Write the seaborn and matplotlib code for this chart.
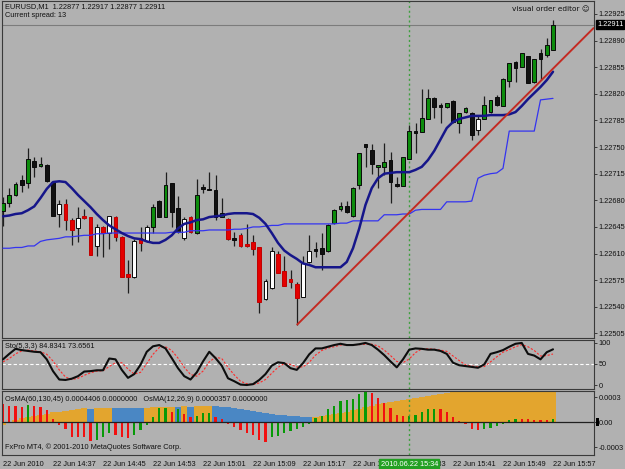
import matplotlib
matplotlib.use("Agg")
import matplotlib.pyplot as plt
from matplotlib.patches import Rectangle
import numpy as np
import pandas as pd
import seaborn as sns

# ---------------- data (EURUSD M1, 22 Jun 2010 14:29 .. 15:57) ----------------
opens = [1.22666, 1.22676, 1.22687, 1.22707, 1.22703, 1.22732, 1.22725, 1.22726, 1.22704, 1.22662,
         1.22675, 1.22654, 1.22643, 1.22660, 1.22658, 1.22620, 1.22645, 1.22637, 1.22658, 1.22632,
         1.22583, 1.22579, 1.22630, 1.22626, 1.22645, 1.22679, 1.22658, 1.22703, 1.22670, 1.22630,
         1.22658, 1.22637, 1.22697, 1.22695, 1.22693, 1.22658, 1.22655, 1.22630, 1.22634, 1.22622,
         1.22625, 1.22618, 1.22550, 1.22565, 1.22610, 1.22587, 1.22576, 1.22570, 1.22553, 1.22599,
         1.22616, 1.22617, 1.22613, 1.22650, 1.22668, 1.22672, 1.22659, 1.22700, 1.22754, 1.22746,
         1.22724, 1.22724, 1.22733, 1.22701, 1.22699, 1.22734, 1.22771, 1.22770, 1.22787, 1.22814,
         1.22805, 1.22803, 1.22810, 1.22782, 1.22796, 1.22795, 1.22772, 1.22787, 1.22796, 1.22816,
         1.22804, 1.22837, 1.22862, 1.22855, 1.22870, 1.22835, 1.22874, 1.22871, 1.22877]
highs = [1.22684, 1.22696, 1.22704, 1.22713, 1.22749, 1.22737, 1.22737, 1.22728, 1.22704, 1.22680,
         1.22682, 1.22657, 1.22671, 1.22668, 1.22658, 1.22649, 1.22646, 1.22660, 1.22659, 1.22633,
         1.22601, 1.22629, 1.22645, 1.22647, 1.22675, 1.22680, 1.22717, 1.22703, 1.22686, 1.22658,
         1.22660, 1.22708, 1.22701, 1.22717, 1.22713, 1.22683, 1.22657, 1.22638, 1.22637, 1.22649,
         1.22634, 1.22618, 1.22576, 1.22618, 1.22613, 1.22607, 1.22588, 1.22572, 1.22607, 1.22634,
         1.22625, 1.22637, 1.22649, 1.22668, 1.22678, 1.22679, 1.22697, 1.22742, 1.22754, 1.22754,
         1.22726, 1.22755, 1.22743, 1.22711, 1.22737, 1.22779, 1.22782, 1.22826, 1.22826, 1.22816,
         1.22808, 1.22808, 1.22812, 1.22795, 1.22803, 1.22796, 1.22792, 1.22817, 1.22812, 1.22818,
         1.22841, 1.22861, 1.22863, 1.22874, 1.22870, 1.22866, 1.22879, 1.22893, 1.22917]
lows = [1.22646, 1.22671, 1.22686, 1.22691, 1.22696, 1.22711, 1.22724, 1.22704, 1.22659, 1.22645,
        1.22641, 1.22621, 1.22625, 1.22655, 1.22608, 1.22607, 1.22605, 1.22616, 1.22626, 1.22579,
        1.22558, 1.22578, 1.22614, 1.22625, 1.22637, 1.22658, 1.22658, 1.22645, 1.22637, 1.22628,
        1.22637, 1.22636, 1.22690, 1.22693, 1.22654, 1.22658, 1.22628, 1.22620, 1.22618, 1.22618,
        1.22608, 1.22532, 1.22549, 1.22563, 1.22584, 1.22567, 1.22565, 1.22516, 1.22553, 1.22597,
        1.22605, 1.22588, 1.22612, 1.22649, 1.22666, 1.22663, 1.22658, 1.22695, 1.22724, 1.22715,
        1.22696, 1.22713, 1.22676, 1.22697, 1.22699, 1.22734, 1.22742, 1.22770, 1.22787, 1.22788,
        1.22782, 1.22801, 1.22782, 1.22768, 1.22795, 1.22759, 1.22766, 1.22787, 1.22795, 1.22804,
        1.22804, 1.22829, 1.22835, 1.22855, 1.22834, 1.22834, 1.22838, 1.22868, 1.22877]
closes = [1.22676, 1.22687, 1.22701, 1.22700, 1.22734, 1.22724, 1.22728, 1.22705, 1.22659, 1.22675,
          1.22654, 1.22641, 1.22657, 1.22657, 1.22608, 1.22645, 1.22637, 1.22659, 1.22632, 1.22579,
          1.22579, 1.22626, 1.22624, 1.22645, 1.22671, 1.22658, 1.22700, 1.22664, 1.22638, 1.22655,
          1.22638, 1.22687, 1.22695, 1.22693, 1.22658, 1.22663, 1.22629, 1.22628, 1.22620, 1.22620,
          1.22616, 1.22546, 1.22574, 1.22614, 1.22584, 1.22568, 1.22572, 1.22551, 1.22597, 1.22614,
          1.22613, 1.22610, 1.22647, 1.22667, 1.22672, 1.22664, 1.22696, 1.22742, 1.22750, 1.22728,
          1.22726, 1.22730, 1.22704, 1.22699, 1.22737, 1.22771, 1.22768, 1.22788, 1.22814, 1.22803,
          1.22803, 1.22808, 1.22783, 1.22795, 1.22801, 1.22766, 1.22787, 1.22805, 1.22812, 1.22805,
          1.22839, 1.22861, 1.22854, 1.22874, 1.22834, 1.22866, 1.22866, 1.22884, 1.22911]
candle_kind = list("gggkgkgkkw" "rrwrrwrwrr" "rwrwgkgkkw" "rgkkkgrkrr" "rrwwrrrrww"
                   "kkgggkggkk" "ggkkggkggk" "kgkggkwggk" "ggkgkgkgg")

ma_slow = [1.22659, 1.22660, 1.22662, 1.22663, 1.22667, 1.22672, 1.22683, 1.22695, 1.22704, 1.22705,
           1.22704, 1.22696, 1.22687, 1.22679, 1.22671, 1.22662, 1.22654, 1.22647, 1.22642, 1.22637,
           1.22633, 1.22630, 1.22629, 1.22626, 1.22624, 1.22624, 1.22628, 1.22634, 1.22643, 1.22649,
           1.22651, 1.22654, 1.22655, 1.22658, 1.22659, 1.22660, 1.22662, 1.22663, 1.22663, 1.22663,
           1.22662, 1.22657, 1.22649, 1.22637, 1.22624, 1.22614, 1.22608, 1.22603, 1.22597, 1.22595,
           1.22592, 1.22592, 1.22592, 1.22592, 1.22592, 1.22599, 1.22617, 1.22643, 1.22674, 1.22696,
           1.22709, 1.22715, 1.22716, 1.22717, 1.22717, 1.22717, 1.22720, 1.22724, 1.22733, 1.22745,
           1.22760, 1.22775, 1.22783, 1.22787, 1.22789, 1.22791, 1.22791, 1.22791, 1.22792, 1.22792,
           1.22792, 1.22793, 1.22796, 1.22804, 1.22813, 1.22821, 1.22829, 1.22838, 1.22849]
stop_line = [1.22617, 1.22617, 1.22618, 1.22618, 1.22620, 1.22620, 1.22626, 1.22628, 1.22629, 1.22630,
             1.22632, 1.22632, 1.22633, 1.22634, 1.22634, 1.22636, 1.22636, 1.22637, 1.22637, 1.22637,
             1.22637, 1.22637, 1.22637, 1.22637, 1.22637, 1.22637, 1.22637, 1.22638, 1.22638, 1.22638,
             1.22640, 1.22640, 1.22640, 1.22641, 1.22641, 1.22641, 1.22641, 1.22642, 1.22642, 1.22643,
             1.22645, 1.22645, 1.22646, 1.22647, 1.22647, 1.22649, 1.22649, 1.22649, 1.22649, 1.22649,
             1.22649, 1.22649, 1.22649, 1.22649, 1.22650, 1.22650, 1.22653, 1.22653, 1.22653, 1.22653,
             1.22653, 1.22661, 1.22661, 1.22661, 1.22662, 1.22662, 1.22667, 1.22668, 1.22668, 1.22668,
             1.22668, 1.22678, 1.22678, 1.22678, 1.22678, 1.22679, 1.22709, 1.22713, 1.22715, 1.22716,
             1.22722, 1.22771, 1.22771, 1.22771, 1.22771, 1.22771, 1.22812, 1.22813, 1.22814]

trend_bars = [47, 94.56]
trend_prices = [1.22516, 1.22907]
current_price = 1.22911
cursor_bar = 65
cursor_label = "2010.06.22 15:34"

stoch_main = [61, 74, 86, 83, 81, 79, 78, 61, 33, 13,
              12, 15, 21, 32, 33, 35, 35, 63, 61, 36,
              17, 26, 48, 79, 92, 95, 87, 64, 40, 21,
              13, 30, 56, 79, 64, 46, 16, 9, 1, 0,
              2, 12, 26, 46, 54, 52, 40, 36, 52, 73,
              87, 87, 91, 95, 98, 95, 95, 97, 100, 95,
              84, 71, 56, 42, 61, 84, 87, 86, 84, 84,
              81, 74, 53, 47, 45, 43, 41, 49, 74, 78,
              83, 91, 98, 100, 74, 70, 61, 78, 84.83]
stoch_signal = [55, 63, 74, 81, 83, 81, 79, 73, 57, 36,
                19, 13, 16, 23, 29, 33, 34, 44, 53, 53,
                38, 26, 30, 51, 73, 89, 91, 82, 64, 42,
                25, 21, 33, 55, 66, 63, 42, 24, 9, 3,
                1, 5, 13, 28, 42, 51, 49, 43, 43, 54,
                71, 82, 88, 91, 95, 96, 96, 96, 97, 97,
                93, 83, 70, 56, 53, 62, 77, 86, 86, 85,
                83, 80, 69, 58, 48, 45, 43, 44, 55, 67,
                78, 84, 91, 96, 91, 82, 69, 70, 73.66]

osma_slow = [-0.00004, -0.00001, 0.00003, 0.000048, 0.00006, 0.000074, 0.000085, 0.000096, 0.000115, 0.000126,
             0.000137, 0.000144, 0.000155, 0.000163, 0.000161, 0.000166, 0.000168, 0.00017, 0.000169, 0.000168,
             0.000167, 0.000166, 0.000165, 0.00017, 0.000176, 0.00018, 0.000184, 0.000186, 0.000185, 0.000187,
             0.000186, 0.00019, 0.000194, 0.000197, 0.000192, 0.000185, 0.000178, 0.000167, 0.000155, 0.000144,
             0.000133, 0.000122, 0.000111, 0.0001, 0.000089, 0.000081, 0.000074, 0.000067, 0.000063, 0.000059,
             0.000065, 0.00007, 0.000081, 0.000093, 0.000104, 0.000122, 0.000141, 0.000159, 0.000178, 0.000196,
             0.000215, 0.000226, 0.000237, 0.000248, 0.000263, 0.000274, 0.000285, 0.000296, 0.000307, 0.000322,
             0.000337, 0.000348, 0.000356, 0.000363, 0.00037, 0.000377, 0.000384, 0.00039, 0.000396, 0.000401,
             0.000406, 0.000411, 0.000416, 0.00042, 0.000424, 0.000428, 0.000432, 0.000436, 0.0004406]
osma_slow_kind = list("o" * 14 + "b" + "ooo" + "bbbbb" + "ooooo" + "b" + "o" + "b" + "ooo" + "b" * 16 + "o" * 39)
osma_fast = [0.000215, 0.000196, 0.000189, 0.000178, 0.000207, 0.000189, 0.000178, 0.000141, 0.000037, -0.000033,
             -0.000081, -0.000174, -0.000181, -0.000181, -0.000229, -0.000211, -0.000174, -0.000137, -0.000155, -0.000181,
             -0.000192, -0.000155, -0.000093, -0.000033, 0.000059, 0.000167, 0.000167, 0.000122, 0.000152, 0.0000925,
             0.000059, 0.000067, 0.000104, 0.000111, 0.000059, 0.000037, -0.000026, -0.000056, -0.0001, -0.00013,
             -0.000155, -0.000211, -0.00024, -0.000174, -0.000163, -0.000137, -0.000111, -0.000081, -0.00006, -0.00002,
             0.00005, 0.000067, 0.000152, 0.000196, 0.000252, 0.000263, 0.000278, 0.000337, 0.000363, 0.000344,
             0.000289, 0.000233, 0.000167, 0.000085, 0.000067, 0.000067, 0.000085, 0.000122, 0.000152, 0.000159,
             0.000152, 0.000115, 0.000059, 0.000011, -0.000026, -0.000081, -0.0001, -0.000081, -0.00007, -0.000044,
             -0.0000185, 0.0000185, 0.00004, 0.000037, 0.000037, 0.00003, 0.000026, 0.000022, 0.0000357]
osma_fast_kind = list("rrrrgrrrrr" "rrrrrgggrr" "rggggggrgr" "rgggrrrrrr" "rrrggggggg"
                      "gggggggggr" "rrrrrggggg" "rrrrrrrggg" "gggrrrrrg")

price_ticks = [1.22505, 1.22540, 1.22575, 1.22610, 1.22645, 1.22680, 1.22715,
               1.22750, 1.22785, 1.22820, 1.22855, 1.22890, 1.22925]
stoch_ticks = [0, 50, 100]
osma_ticks = [-0.0003, 0.0, 0.0003]
osma_tick_labels = ["-0.0003", "0.00", "0.0003"]
time_ticks = [0, 8, 16, 24, 32, 40, 48, 56, 64, 72, 80, 88]
time_labels = ["22 Jun 2010", "22 Jun 14:37", "22 Jun 14:45", "22 Jun 14:53", "22 Jun 15:01",
               "22 Jun 15:09", "22 Jun 15:17", "22 Jun 15:25", "22 Jun 15:33", "22 Jun 15:41",
               "22 Jun 15:49", "22 Jun 15:57"]

# ---------------- styling ----------------
sns.set_style("white")
plt.rcParams['font.family'] = ['Liberation Sans', 'DejaVu Sans']
BG = '#b1b1b1'
SPINE = '#3a3a3a'
FS = 5.3

n = len(opens)
bars = np.arange(n)
df = pd.DataFrame({"bar": bars, "open": opens, "high": highs, "low": lows, "close": closes,
                   "kind": candle_kind, "ma": ma_slow, "stop": stop_line,
                   "k": stoch_main, "d": stoch_signal,
                   "osma_slow": osma_slow, "slow_kind": osma_slow_kind,
                   "osma_fast": osma_fast, "fast_kind": osma_fast_kind})

W, H = 625, 469
fig = plt.figure(figsize=(W / 100, H / 100), dpi=100, facecolor=BG)


def axes_px(x0, y0, x1, y1):
    ax = fig.add_axes([x0 / W, 1 - y1 / H, (x1 - x0) / W, (y1 - y0) / H])
    ax.set_facecolor(BG)
    for s in ax.spines.values():
        s.set_color(SPINE)
        s.set_linewidth(0.8)
    ax.set_xlim(-0.16, 94.56)
    ax.yaxis.tick_right()
    ax.tick_params(axis='y', direction='out', length=2.5, width=0.7, color=SPINE,
                   labelsize=FS, pad=1.0, labelcolor='#111111', right=True, left=False)
    return ax


ax_main = axes_px(2, 1, 594, 338)
ax_sto = axes_px(2, 340, 594, 389)
ax_osma = axes_px(2, 391, 594, 455)

# ---------------- main price panel ----------------
face = {'g': '#0c8c0c', 'k': '#111111', 'w': '#ffffff', 'r': '#e40000'}
edge = {'g': '#0a0a0a', 'k': '#0a0a0a', 'w': '#0a0a0a', 'r': '#c00000'}
ax_main.vlines(df["bar"], df["low"], df["high"], color='#1e1e1e', lw=0.9, zorder=2)
body_lo = np.minimum(df["open"], df["close"])
body_h = np.abs(df["close"] - df["open"])
ax_main.bar(df["bar"], body_h, bottom=body_lo, width=0.6,
            color=[face[k] for k in df["kind"]], edgecolor=[edge[k] for k in df["kind"]],
            linewidth=0.7, zorder=3)

sns.lineplot(data=df, x="bar", y="stop", ax=ax_main, color='#3434f0', linewidth=0.9,
             estimator=None, legend=False, zorder=4)
sns.lineplot(data=df, x="bar", y="ma", ax=ax_main, color='#16168a', linewidth=1.8,
             estimator=None, legend=False, zorder=5)
ax_main.plot(trend_bars, trend_prices, color='#c42a22', lw=1.4, zorder=6, solid_capstyle='butt')
ax_main.axhline(current_price, color='#7c7c7c', lw=0.8, zorder=1)
ax_main.axvline(cursor_bar, color='#3f9f3f', lw=1.0, ls=(0, (1.5, 2)), zorder=1)

ax_main.set_ylim(1.22499, 1.22942)
ax_main.set_yticks(price_ticks)
ax_main.set_yticklabels([f"{p:.5f}" for p in price_ticks])
ax_main.set_xticks([])
ax_main.set_xlabel("")
ax_main.set_ylabel("")
ax_main.text(1.005, current_price, f"{current_price:.5f}", transform=ax_main.get_yaxis_transform(),
             ha='left', va='center', fontsize=FS, color='white', clip_on=False,
             bbox=dict(boxstyle='square,pad=0.12', fc='black', ec='black'))

# ---------------- stochastic panel ----------------
ax_sto.axhline(50, color='white', lw=0.8, ls=(0, (3, 2)), zorder=1)
sns.lineplot(data=df, x="bar", y="d", ax=ax_sto, color='#ff2a2a', linewidth=0.8,
             linestyle=(0, (2, 1.5)), estimator=None, legend=False, zorder=2)
sns.lineplot(data=df, x="bar", y="k", ax=ax_sto, color='#0d0d0d', linewidth=1.5,
             estimator=None, legend=False, zorder=3)
ax_sto.axvline(cursor_bar, color='#3f9f3f', lw=1.0, ls=(0, (1.5, 2)), zorder=1)
ax_sto.set_ylim(-9.5, 107)
ax_sto.set_yticks(stoch_ticks)
ax_sto.set_yticklabels([str(t) for t in stoch_ticks])
ax_sto.set_xticks([])
ax_sto.set_xlabel("")
ax_sto.set_ylabel("")
ax_sto.text(0.005, 0.86, "Sto(5,3,3) 84.8341 73.6561", transform=ax_sto.transAxes,
            fontsize=FS, color='#111111', va='center', ha='left', zorder=5)

# ---------------- OsMA panel ----------------
slow_col = {'o': '#e3a52e', 'b': '#4a87c4'}
fast_col = {'g': '#079a07', 'r': '#f21010'}
ax_osma.bar(df["bar"], df["osma_slow"], width=1.0, color=[slow_col[k] for k in df["slow_kind"]],
            linewidth=0, zorder=1)
ax_osma.bar(df["bar"], df["osma_fast"], width=0.38, color=[fast_col[k] for k in df["fast_kind"]],
            linewidth=0, zorder=2)
ax_osma.axhline(0, color='#202020', lw=0.9, zorder=3)
ax_osma.axvline(cursor_bar, color='#3f9f3f', lw=1.0, ls=(0, (1.5, 2)), zorder=4)
ax_osma.set_ylim(-0.000396, 0.000372)
ax_osma.set_yticks(osma_ticks)
ax_osma.set_yticklabels(osma_tick_labels)
ax_osma.set_xticks(time_ticks)
ax_osma.set_xticklabels(time_labels)
ax_osma.tick_params(axis='x', direction='out', length=3, width=0.7, color=SPINE,
                    labelsize=FS, pad=1.5, labelcolor='#111111')
for lab in ax_osma.get_xticklabels():
    lab.set_horizontalalignment('left')
ax_osma.set_xlabel("")
ax_osma.set_ylabel("")
ax_osma.text(0.005, 0.87, "OsMA(60,130,45) 0.0004406 0.0000000   OsMA(12,26,9) 0.0000357 0.0000000",
             transform=ax_osma.transAxes, fontsize=FS, color='#111111', va='center', ha='left', zorder=6)
ax_osma.text(0.005, 0.13, "FxPro MT4, \u00a9 2001-2010 MetaQuotes Software Corp.",
             transform=ax_osma.transAxes, fontsize=FS, color='#111111', va='center', ha='left', zorder=6)
ax_osma.text(cursor_bar, -0.09, cursor_label, transform=ax_osma.get_xaxis_transform(),
             ha='center', va='top', fontsize=FS, color='white', clip_on=False, zorder=10,
             bbox=dict(boxstyle='square,pad=0.2', fc='#23a023', ec='#23a023'))
fig.patches.append(Rectangle((596 / W, 1 - 426 / H), 3 / W, 8 / H, transform=fig.transFigure,
                             fc='black', ec='none'))

# ---------------- header texts ----------------
fig.text(5 / W, 1 - 6.5 / H, "EURUSD,M1  1.22877 1.22917 1.22877 1.22911", fontsize=FS,
         color='#111111', va='center', ha='left')
fig.text(5 / W, 1 - 15.5 / H, "Current spread: 13", fontsize=FS, color='#111111', va='center', ha='left')
fig.text(590 / W, 1 - 9 / H, "visual order editor \u263a", fontsize=FS, color='#111111',
         va='center', ha='right', family=['DejaVu Sans'])

fig.savefig("out.png", dpi=100, facecolor=BG)
